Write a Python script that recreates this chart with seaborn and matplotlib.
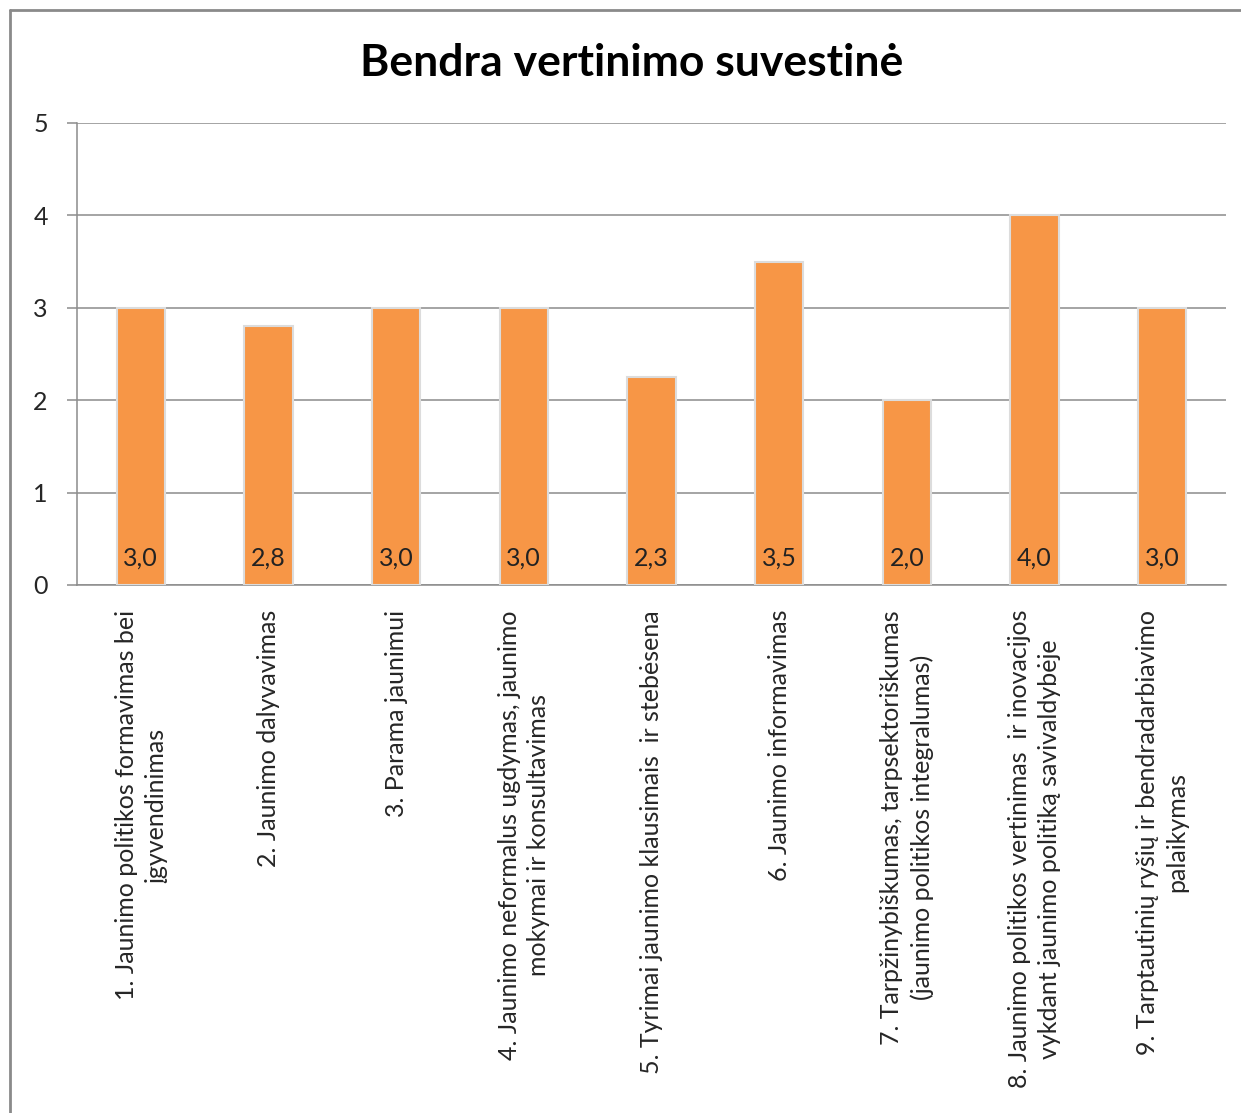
import numpy as np
import matplotlib.pyplot as plt
import matplotlib.lines as mlines
import seaborn as sns
import pandas as pd

# chart data
categories = [
    "1. Jaunimo politikos formavimas bei\nįgyvendinimas",
    "2. Jaunimo dalyvavimas",
    "3. Parama jaunimui",
    "4. Jaunimo neformalus ugdymas, jaunimo\nmokymai ir konsultavimas",
    "5. Tyrimai jaunimo klausimais  ir stebėsena",
    "6. Jaunimo informavimas",
    "7. Tarpžinybiškumas, tarpsektoriškumas\n(jaunimo politikos integralumas)",
    "8. Jaunimo politikos vertinimas  ir inovacijos\nvykdant jaunimo politiką savivaldybėje",
    "9. Tarptautinių ryšių ir bendradarbiavimo\npalaikymas",
]
scores = [3.0, 2.8, 3.0, 3.0, 2.25, 3.5, 2.0, 4.0, 3.0]
score_labels = ["3,0", "2,8", "3,0", "3,0", "2,3", "3,5", "2,0", "4,0", "3,0"]
yticks = [0, 1, 2, 3, 4, 5]

sns.set_theme(style="white")
plt.rcParams['font.family'] = ['Lato', 'DejaVu Sans']

df = pd.DataFrame({"cat": categories, "score": scores})

W, H = 1241, 1113
fig = plt.figure(figsize=(W / 100, H / 100), dpi=100)
ax = fig.add_axes([77 / W, 1 - 585 / H, (1226 - 77) / W, (585 - 123) / H])

sns.barplot(data=df, x="cat", y="score", color="#F79646", saturation=1,
            width=0.38, edgecolor="#dcdcdc", linewidth=1.5, ax=ax, zorder=3)

# value labels near the bottom of each bar
for p, lab in zip(ax.patches, score_labels):
    ax.text(p.get_x() + p.get_width() / 2, 0.29, lab, ha="center", va="center",
            fontsize=18, color="#222222", zorder=4)

ax.set_ylim(0, 5)
ax.set_xlim(-0.5, len(categories) - 0.5)
ax.set_yticks(yticks)
ax.set_yticklabels([str(t) for t in yticks], fontsize=18)
ax.yaxis.grid(True, color="#8c8c8c", linewidth=1.1, zorder=0)
ax.set_axisbelow(True)
ax.set_xlabel("")
ax.set_ylabel("")

ax.set_xticks(range(len(categories)))
ax.set_xticklabels(categories, rotation=90, fontsize=18, ha="center",
                   va="top", multialignment="center", linespacing=1.35)
ax.set_xticks(np.arange(-0.5, len(categories)), minor=True)
ax.tick_params(axis="x", which="major", length=0, pad=18)
ax.tick_params(axis="x", which="minor", length=7, color="#8c8c8c", width=1.1)
ax.tick_params(axis="y", length=7, color="#8c8c8c", width=1.1, pad=14, left=True)

for s in ["top", "right"]:
    ax.spines[s].set_visible(False)
for s in ["left", "bottom"]:
    ax.spines[s].set_color("#8c8c8c")
    ax.spines[s].set_linewidth(1.1)

fig.text(632 / W, 1 - 63 / H, "Bendra vertinimo suvestinė", ha="center",
         va="center", fontsize=32, fontweight="bold", color="black")

# outer chart frame (cropped on the right and bottom)
fig.add_artist(mlines.Line2D([10 / W, 10 / W], [0, 1 - 10 / H],
                             transform=fig.transFigure, color="#8a8a8a", lw=2))
fig.add_artist(mlines.Line2D([10 / W, 1], [1 - 10 / H, 1 - 10 / H],
                             transform=fig.transFigure, color="#8a8a8a", lw=2))

fig.savefig("out.png", dpi=100, facecolor="white")
